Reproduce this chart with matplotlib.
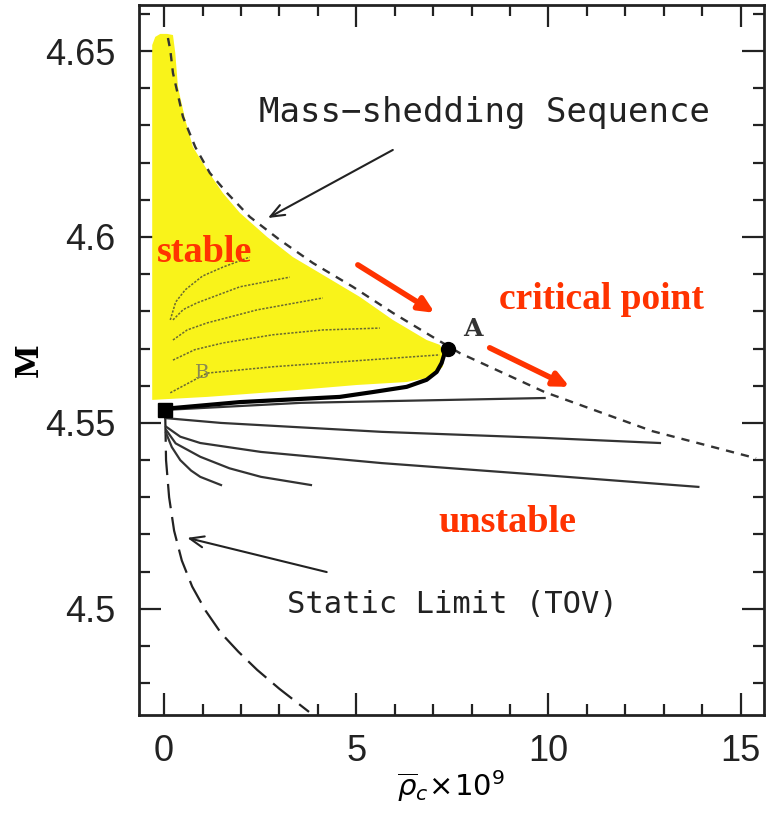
import numpy as np
import matplotlib
matplotlib.use("Agg")
import matplotlib.pyplot as plt
from matplotlib.ticker import MultipleLocator

# ---- data ----
# mass-shedding sequence (short dashes)
shed_x = [0.10, 0.16, 0.23, 0.49, 0.81, 1.19, 1.64, 2.23, 3.01, 3.87, 4.91,
          5.95, 6.99, 7.69, 9.9, 12.7, 15.4]
shed_y = [4.6535, 4.6503, 4.6441, 4.6323, 4.6242, 4.6172, 4.6118, 4.6054, 4.5992,
          4.5930, 4.5866, 4.5796, 4.5731, 4.5688, 4.5583, 4.5478, 4.5405]

# static limit (TOV), long dashes
tov_x = [0.03, 0.05, 0.13, 0.26, 0.46, 0.73, 1.08, 1.48, 1.93, 2.42, 3.0, 3.77]
tov_y = [4.5515, 4.540, 4.530, 4.521, 4.513, 4.506, 4.4995, 4.4935, 4.4885,
         4.4836, 4.4785, 4.4723]

# bold sequence from the origin point to A
bold_x = [0.03, 0.23, 1.97, 4.57, 5.43, 6.31, 6.83, 7.09, 7.22, 7.30, 7.38]
bold_y = [4.5535, 4.5540, 4.5556, 4.5570, 4.5583, 4.5597, 4.5616, 4.5637,
          4.5661, 4.5688, 4.5702]

# thin sequences in the unstable region
seq1_x = [0.03, 3.56, 9.9]
seq1_y = [4.5535, 4.5554, 4.5567]
seq2_x = [0.03, 1.48, 5.66, 9.84, 12.9]
seq2_y = [4.5513, 4.550, 4.5476, 4.546, 4.5446]
seq3_x = [0.05, 0.42, 0.94, 2.52, 5.66, 9.84, 13.9]
seq3_y = [4.549, 4.5463, 4.5446, 4.5422, 4.5392, 4.536, 4.5328]
seq4_x = [0.06, 0.30, 0.94, 1.70, 2.52, 3.82]
seq4_y = [4.548, 4.5445, 4.5409, 4.5378, 4.5355, 4.5333]
seq5_x = [0.05, 0.20, 0.42, 0.70, 0.94, 1.48]
seq5_y = [4.5473, 4.5435, 4.540, 4.5372, 4.5355, 4.5333]

# faint sequences inside the stable region
st1_x = [0.16, 1.12, 2.83, 4.57, 7.17]
st1_y = [4.5581, 4.5634, 4.5651, 4.5664, 4.5683]
st2_x = [0.23, 0.80, 1.53, 2.83, 4.13, 5.61]
st2_y = [4.5669, 4.5697, 4.5715, 4.5737, 4.575, 4.5755]
st3_x = [0.23, 0.60, 1.12, 2.42, 4.13]
st3_y = [4.5723, 4.5750, 4.5769, 4.5804, 4.5836]
st4_x = [0.23, 0.50, 0.86, 1.97, 3.27]
st4_y = [4.5777, 4.5805, 4.5823, 4.5866, 4.5892]
st5_x = [0.16, 0.30, 0.55, 1.00, 1.53, 2.23]
st5_y = [4.5777, 4.5825, 4.5858, 4.5895, 4.5919, 4.5946]

# shaded stable region outline
yel_x = [-0.31, -0.31, -0.23, -0.10, 0.08, 0.23, 0.29, 0.36, 0.55, 0.75, 1.12,
         1.53, 1.97, 2.68, 3.35, 4.23, 5.09, 5.95, 6.83, 7.17, 7.30, 7.25,
         6.99, 6.31, 5.01, 2.83, 1.12, -0.29]
yel_y = [4.5562, 4.6516, 4.6538, 4.6546, 4.6546, 4.6543, 4.6495, 4.6403, 4.6315,
         4.6242, 4.6180, 4.6118, 4.6065, 4.6000, 4.5946, 4.5892, 4.5839, 4.5777,
         4.5723, 4.5710, 4.5688, 4.5651, 4.5624, 4.5610, 4.5602, 4.5583, 4.5570,
         4.5562]

pt_origin = (0.03, 4.5535)
pt_A = (7.38, 4.5700)

red = '#ff3300'

fig = plt.figure(figsize=(7.73, 8.17), dpi=100)
ax = fig.add_axes([0.18, 0.125, 0.808, 0.869])

ax.fill(yel_x, yel_y, color='#f9f31a', lw=0, zorder=2)
for sx, sy in [(st1_x, st1_y), (st2_x, st2_y), (st3_x, st3_y), (st4_x, st4_y), (st5_x, st5_y)]:
    ax.plot(sx, sy, color='#6a6a30', lw=1.1, ls=(0, (1.5, 1.0)), zorder=3)
ax.text(1.0, 4.5635, 'B', fontsize=14, color='#8a8a50', ha='center', va='center',
        family='DejaVu Serif', zorder=3)

ax.plot(shed_x, shed_y, color='#333333', lw=1.7, ls=(0, (3.5, 3)), zorder=4)
ax.plot(tov_x, tov_y, color='#222222', lw=1.6, ls=(0, (11, 4)), zorder=4)
for sx, sy in [(seq1_x, seq1_y), (seq2_x, seq2_y), (seq3_x, seq3_y), (seq4_x, seq4_y), (seq5_x, seq5_y)]:
    ax.plot(sx, sy, color='#333333', lw=1.6, zorder=4)
ax.plot(bold_x, bold_y, color='black', lw=3, zorder=5, solid_capstyle='round')
ax.plot(*pt_origin, marker='s', color='black', ms=10, zorder=6)
ax.plot(*pt_A, marker='o', color='black', ms=10, zorder=6)
ax.text(8.03, 4.5752, 'A', fontsize=18, family='DejaVu Serif', weight='bold',
        ha='center', va='center', color='#333333')

# annotations
mono = 'DejaVu Sans Mono'
ax.text(8.34, 4.6336, 'Mass\u2212shedding Sequence', fontsize=24.5, family=mono,
        ha='center', va='center', color='#222222')
ax.text(7.51, 4.5011, 'Static Limit (TOV)', fontsize=22, family=mono,
        ha='center', va='center', color='#222222')
ax.annotate('', xy=(2.70, 4.6051), xytext=(5.95, 4.6234),
            arrowprops=dict(arrowstyle='->,head_length=1.0,head_width=0.4', color='#222222',
                            lw=1.5, shrinkA=0, shrinkB=0))
ax.annotate('', xy=(0.60, 4.5191), xytext=(4.23, 4.5099),
            arrowprops=dict(arrowstyle='->,head_length=1.0,head_width=0.4', color='#222222',
                            lw=1.5, shrinkA=0, shrinkB=0))

ax.annotate('', xy=(7.04, 4.5796), xytext=(5.04, 4.5925),
            arrowprops=dict(arrowstyle='-|>,head_length=0.9,head_width=0.42', color=red,
                            lw=4, shrinkA=0, shrinkB=0))
ax.annotate('', xy=(10.55, 4.5597), xytext=(8.47, 4.5702),
            arrowprops=dict(arrowstyle='-|>,head_length=0.9,head_width=0.42', color=red,
                            lw=4, shrinkA=0, shrinkB=0))

serif = 'Liberation Serif'
ax.text(1.06, 4.5957, 'stable', fontsize=27.5, family=serif, weight='bold', color=red,
        ha='center', va='center', zorder=7)
ax.text(11.38, 4.5831, 'critical point', fontsize=27, family=serif, weight='bold', color=red,
        ha='center', va='center')
ax.text(8.94, 4.5231, 'unstable', fontsize=27.5, family=serif, weight='bold', color=red,
        ha='center', va='center')

# axes
ax.set_xlim(-0.65, 15.6)
ax.set_ylim(4.4715, 4.6624)
ax.set_xticks([0, 5, 10, 15])
ax.set_yticks([4.5, 4.55, 4.6, 4.65])
ax.set_yticklabels(['4.5', '4.55', '4.6', '4.65'])
ax.xaxis.set_minor_locator(MultipleLocator(1))
ax.yaxis.set_minor_locator(MultipleLocator(0.01))
ax.tick_params(which='both', direction='in', top=True, right=True, width=1.6, colors='#222222')
ax.tick_params(which='major', length=16, labelsize=26, pad=17)
ax.tick_params(axis='x', which='major', pad=14)
ax.tick_params(which='minor', length=8)
for lab in ax.get_xticklabels() + ax.get_yticklabels():
    lab.set_family('Liberation Sans')
for s in ax.spines.values():
    s.set_linewidth(2)
    s.set_color('#222222')

ax.set_xlabel(r'$\overline{\rho}_c\!\times\!10^9$', fontsize=21, labelpad=0)
ax.set_ylabel('M', fontsize=22, family='DejaVu Serif', weight='bold', labelpad=0)

fig.savefig('out.png', dpi=100)
